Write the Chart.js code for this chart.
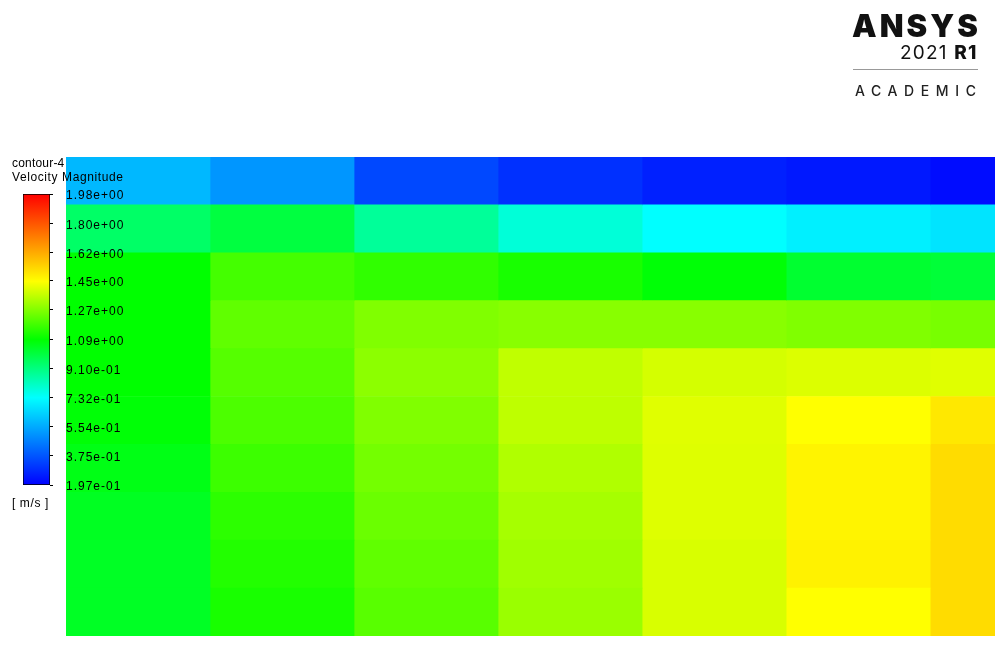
<!DOCTYPE html>
<html>
<head>
<meta charset="utf-8">
<script src="https://cdn.jsdelivr.net/npm/chart.js@4.4.1/dist/chart.umd.min.js"></script>
<style>
html,body{margin:0;padding:0;background:#fff;overflow:hidden;}
#wrap{position:relative;width:995px;height:666px;}
canvas{position:absolute;left:0;top:0;}
.t{position:absolute;font-family:"Liberation Sans",Arial,sans-serif;font-size:12px;color:#000;white-space:nowrap;line-height:12px;}
.logo{position:absolute;font-family:Inter,"Open Sans",sans-serif;color:#111;white-space:nowrap;line-height:1;}
</style>
</head>
<body>
<div id="wrap">
  <canvas id="heat" width="995" height="666"></canvas>
  <canvas id="cbar" width="995" height="666"></canvas>
  <div class="t" style="left:12px;top:157px;letter-spacing:0.2px;">contour-4</div>
  <div class="t" style="left:12px;top:171px;letter-spacing:0.6px;">Velocity Magnitude</div>
  <div class="t" style="left:12px;top:497px;letter-spacing:0.6px;">[ m/s ]</div>
  <div class="logo" style="left:852px;top:10px;font-size:31px;font-weight:900;letter-spacing:3px;">ANSYS</div>
  <div class="logo" style="left:900px;top:43px;font-size:19px;font-weight:400;letter-spacing:1.2px;">2021 <b style="font-weight:800">R1</b></div>
  <div style="position:absolute;left:853px;top:69px;width:125px;height:1px;background:#999;"></div>
  <div class="logo" style="left:855px;top:84px;font-size:14px;font-weight:500;letter-spacing:6.6px;color:#222;">ACADEMIC</div>
</div>
<script>
// ---- data ----
const rowLabels = ['r1','r2','r3','r4','r5','r6','r7','r8','r9','r10'];
const columnEdges = [0, 1, 2, 3, 4, 5, 6, 6.45];
const velocityCol1 = [0.583, 0.946, 1.089, 1.088, 1.088, 1.080, 1.059, 1.041, 1.037, 1.037];
const velocityCol2 = [0.512, 0.999, 1.184, 1.223, 1.207, 1.195, 1.172, 1.150, 1.136, 1.122];
const velocityCol3 = [0.348, 0.875, 1.156, 1.268, 1.284, 1.268, 1.251, 1.237, 1.223, 1.212];
const velocityCol4 = [0.298, 0.786, 1.122, 1.279, 1.357, 1.354, 1.335, 1.321, 1.312, 1.304];
const velocityCol5 = [0.264, 0.732, 1.080, 1.279, 1.385, 1.402, 1.399, 1.399, 1.391, 1.391];
const velocityCol6 = [0.247, 0.700, 1.021, 1.268, 1.396, 1.445, 1.468, 1.468, 1.472, 1.445];
const velocityCol7 = [0.222, 0.675, 1.010, 1.256, 1.402, 1.493, 1.519, 1.519, 1.519, 1.519];
const legendMin = 0.197;
const legendMax = 1.98;
const legendTicks = [0.197, 0.375, 0.554, 0.732, 0.910, 1.09, 1.27, 1.45, 1.62, 1.80, 1.98];
const legendTickLabels = ['1.97e-01','3.75e-01','5.54e-01','7.32e-01','9.10e-01','1.09e+00','1.27e+00','1.45e+00','1.62e+00','1.80e+00','1.98e+00'];

// ---- colormap (style) ----
const colorStops = [[0,[0,0,255]],[0.3,[0,255,255]],[0.5,[0,255,0]],[0.7,[255,255,0]],[1,[255,0,0]]];
function valueToColor(v){
  let t = (v - legendMin) / (legendMax - legendMin);
  t = Math.max(0, Math.min(1, t));
  for (let i = 0; i < colorStops.length - 1; i++){
    const [t0,c0] = colorStops[i], [t1,c1] = colorStops[i+1];
    if (t <= t1){
      const f = (t - t0) / (t1 - t0);
      const c = c0.map((a,k)=>Math.round(a + (c1[k]-a)*f));
      return `rgb(${c[0]},${c[1]},${c[2]})`;
    }
  }
  return 'rgb(255,0,0)';
}

const columns = [velocityCol1, velocityCol2, velocityCol3, velocityCol4, velocityCol5, velocityCol6, velocityCol7];

new Chart(document.getElementById('heat'), {
  type: 'bar',
  data: {
    labels: rowLabels,
    datasets: columns.map((vals, j) => ({
      data: vals.map(() => [columnEdges[j], columnEdges[j+1]]),
      backgroundColor: vals.map(valueToColor),
      borderWidth: 0,
      grouped: false,
      barPercentage: 1,
      categoryPercentage: 1
    }))
  },
  options: {
    indexAxis: 'y',
    responsive: false,
    animation: false,
    events: [],
    layout: { padding: { left: 66, top: 157, right: 0, bottom: 30 } },
    plugins: { legend: { display: false }, tooltip: { enabled: false } },
    scales: {
      x: { type: 'linear', min: columnEdges[0], max: columnEdges[columnEdges.length-1], display: false },
      y: { type: 'category', display: false }
    }
  }
});

const spacingPlugin = {
  id: 'labelSpacing',
  beforeDraw(chart){ chart.ctx.letterSpacing = '1px'; }
};

new Chart(document.getElementById('cbar'), {
  type: 'bar',
  plugins: [spacingPlugin],
  data: {
    labels: ['Velocity Magnitude'],
    datasets: [{
      data: [[legendMin, legendMax]],
      backgroundColor: (ctx) => {
        const ca = ctx.chart.chartArea;
        if (!ca) return '#888';
        const g = ctx.chart.ctx.createLinearGradient(0, ca.bottom, 0, ca.top);
        colorStops.forEach(([t,c]) => g.addColorStop(t, `rgb(${c[0]},${c[1]},${c[2]})`));
        return g;
      },
      borderColor: '#000',
      borderWidth: 1,
      borderSkipped: false,
      barPercentage: 1,
      categoryPercentage: 1
    }]
  },
  options: {
    responsive: false,
    animation: false,
    events: [],
    layout: { padding: { left: 23, top: 194, right: 865, bottom: 181 } },
    plugins: { legend: { display: false }, tooltip: { enabled: false } },
    scales: {
      x: { display: false },
      y: {
        type: 'linear', position: 'right', min: legendMin, max: legendMax,
        afterBuildTicks: (s) => { s.ticks = legendTicks.map(v => ({ value: v })); },
        afterFit: (s) => { s.width = 80; },
        ticks: {
          autoSkip: false,
          padding: 13,
          labelOffset: 2,
          color: '#000',
          font: { family: '"Liberation Sans", Arial, sans-serif', size: 12 },
          callback: (v, i) => legendTickLabels[i]
        },
        grid: { drawOnChartArea: false, drawTicks: true, tickLength: 3, color: '#000', tickColor: '#000' },
        border: { display: false }
      }
    }
  }
});
</script>
</body>
</html>
